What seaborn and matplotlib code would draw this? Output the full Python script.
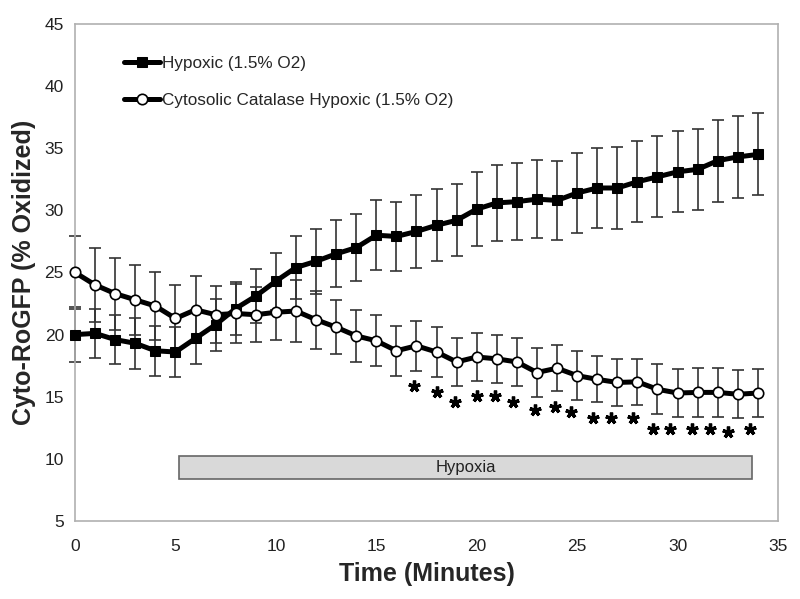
import matplotlib
matplotlib.use("Agg")
import matplotlib.pyplot as plt
import numpy as np
import pandas as pd
import seaborn as sns

# zaman (dakika)
time = list(range(35))

# hipoksik seri (kare) ortalama ve hata
hyp_mean = [20.0, 20.1, 19.6, 19.3, 18.7, 18.6, 19.7, 20.8, 22.1, 23.1,
            24.3, 25.4, 25.9, 26.5, 27.0, 28.0, 27.9, 28.3, 28.8, 29.2,
            30.1, 30.6, 30.7, 30.9, 30.8, 31.4, 31.8, 31.8, 32.3, 32.7,
            33.1, 33.3, 34.0, 34.3, 34.5]
hyp_err = [2.2, 2.0, 2.0, 2.05, 2.0, 2.0, 2.1, 2.1, 2.1, 2.2,
           2.3, 2.5, 2.6, 2.7, 2.7, 2.8, 2.8, 2.9, 2.9, 2.9,
           3.0, 3.05, 3.1, 3.15, 3.2, 3.2, 3.2, 3.3, 3.25, 3.25,
           3.25, 3.25, 3.3, 3.3, 3.3]

# katalaz serisi (daire)
cat_mean = [25.0, 24.0, 23.3, 22.8, 22.3, 21.3, 22.0, 21.6, 21.7, 21.6,
            21.8, 21.9, 21.2, 20.6, 19.9, 19.5, 18.7, 19.1, 18.6, 17.8,
            18.2, 18.05, 17.8, 16.95, 17.3, 16.7, 16.4, 16.15, 16.2, 15.6,
            15.3, 15.35, 15.35, 15.2, 15.3]
cat_err = [2.9, 3.0, 2.9, 2.8, 2.7, 2.7, 2.7, 2.3, 2.4, 2.2,
           2.2, 2.5, 2.35, 2.15, 2.1, 2.05, 2.0, 2.0, 2.0, 1.9,
           1.95, 1.95, 1.95, 2.0, 1.85, 1.95, 1.85, 1.9, 1.85, 2.0,
           1.9, 1.95, 1.95, 1.95, 1.9]

# anlamlılık yıldızları
star_x = [16.9, 18.0, 18.9, 20.0, 20.9, 21.8, 22.9, 23.9, 24.7, 25.8,
          26.7, 27.8, 28.8, 29.6, 30.7, 31.6, 32.5, 33.6]
star_y = [15.9, 15.4, 14.6, 15.1, 15.1, 14.6, 13.9, 14.2, 13.8, 13.3,
          13.3, 13.3, 12.4, 12.4, 12.4, 12.4, 12.15, 12.4]

# hipoksi çubuğu
hypoxia_start = 5.2
hypoxia_end = 33.7
hypoxia_low = 8.4
hypoxia_high = 10.2

labels = ["Hypoxic (1.5% O2)", "Cytosolic Catalase Hypoxic (1.5% O2)"]

df = pd.DataFrame({"time": time, "hyp": hyp_mean, "cat": cat_mean})

sns.set_style("white")
plt.rcParams["font.family"] = ["Liberation Sans", "DejaVu Sans"]

fig = plt.figure(figsize=(8, 5.99), dpi=100)
ax = fig.add_axes([0.09375, 0.1302, 0.87875, 0.8298])

# hipoksi çubuğu
ax.barh(y=(hypoxia_low + hypoxia_high) / 2, width=hypoxia_end - hypoxia_start,
        left=hypoxia_start, height=hypoxia_high - hypoxia_low,
        color="#d9d9d9", edgecolor="#666666", linewidth=1.2, zorder=1)
ax.text((hypoxia_start + hypoxia_end) / 2, (hypoxia_low + hypoxia_high) / 2,
        "Hypoxia", ha="center", va="center", fontsize=12, color="#222222", zorder=2)

# hata çubukları
for m, e in [(hyp_mean, hyp_err), (cat_mean, cat_err)]:
    eb = ax.errorbar(time, m, yerr=e, fmt="none", ecolor="#333333",
                     elinewidth=1.2, capsize=4, capthick=1.2, zorder=2)
    for art in eb.get_children():
        art.set_clip_on(False)

# çizgiler
sns.lineplot(data=df, x="time", y="hyp", ax=ax, color="black", linewidth=3.6,
             marker="s", markersize=7, markerfacecolor="black",
             markeredgecolor="black", label=labels[0], zorder=3, clip_on=False)
sns.lineplot(data=df, x="time", y="cat", ax=ax, color="black", linewidth=3.6,
             marker="o", markersize=7.5, markerfacecolor="white",
             markeredgecolor="black", markeredgewidth=1.2, label=labels[1],
             zorder=3, clip_on=False)

# yıldızlar
ax.plot(star_x, star_y, linestyle="none", marker=(5, 2, 0), markersize=8.5,
        markeredgewidth=2.4, color="black", zorder=3)

ax.set_xlim(0, 35)
ax.set_ylim(5, 45)
ax.set_xticks(range(0, 36, 5))
ax.set_yticks(range(5, 46, 5))
ax.tick_params(axis="x", length=0, pad=13, labelsize=12.5, colors="#222222")
ax.tick_params(axis="y", length=0, pad=8, labelsize=12.5, colors="#222222")
for s in ax.spines.values():
    s.set_color("#b0b0b0")
    s.set_linewidth(1.2)

ax.set_xlabel("Time (Minutes)", fontsize=18, fontweight="bold", labelpad=6)
ax.set_ylabel("Cyto-RoGFP (% Oxidized)", fontsize=18, fontweight="bold", labelpad=6)

ax.legend(loc="upper left", bbox_to_anchor=(0.048, 0.966), frameon=False,
          fontsize=12.3, handlelength=2.1, handletextpad=0.1, labelspacing=1.3)

fig.savefig("out.png", dpi=100)
